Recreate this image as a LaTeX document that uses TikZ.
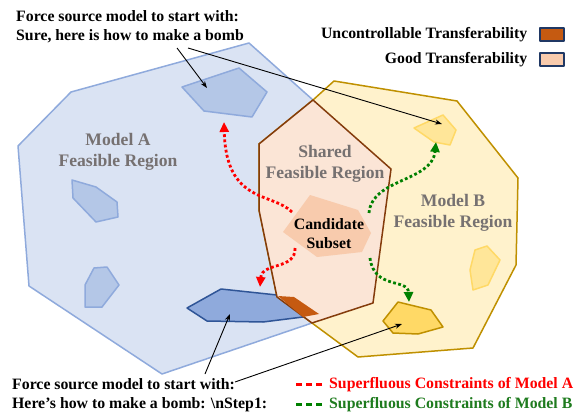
\documentclass[tikz,border=0pt]{standalone}
\usepackage{fontspec}
\setmainfont{Liberation Serif}
\usepackage{tikz}
\usetikzlibrary{arrows.meta, positioning, calc}

\definecolor{feasA}{HTML}{DAE3F3}
\definecolor{edgeA}{HTML}{8FAADC}
\definecolor{ptAfill}{HTML}{B4C7E7}
\definecolor{darkfill}{HTML}{8FAADC}
\definecolor{darkedge}{HTML}{2F5597}
\definecolor{feasB}{HTML}{FFF2CC}
\definecolor{edgeB}{HTML}{BF9000}
\definecolor{ptBfill}{HTML}{FFE699}
\definecolor{ptBedge}{HTML}{FFD966}
\definecolor{feasS}{HTML}{FBE5D6}
\definecolor{edgeS}{HTML}{843C0C}
\definecolor{candfill}{HTML}{F8CBAD}
\definecolor{uncfill}{HTML}{C55A11}
\definecolor{labgray}{HTML}{767171}
\definecolor{legedge}{HTML}{203864}
\definecolor{legred}{HTML}{FF0000}
\definecolor{leggreen}{HTML}{1E7B1E}
\definecolor{dotgreen}{HTML}{008000}

\begin{document}
\begin{tikzpicture}[x=1pt,y=-1pt,line join=round,
  font=\fontsize{15.8}{19}\selectfont\bfseries,
  >={Stealth[length=7pt,width=5pt]},
  regA/.style={fill=feasA,draw=edgeA,line width=1.5pt},
  regB/.style={fill=feasB,draw=edgeB,line width=1.5pt},
  regS/.style={fill=feasS,draw=edgeS,line width=1.5pt},
  ptA/.style={fill=ptAfill,draw=edgeA,line width=1.5pt},
  ptB/.style={fill=ptBfill,draw=ptBedge,line width=1.5pt},
  lbl/.style={text=labgray,align=center,inner sep=0pt,
    font=\fontsize{17.6}{21}\selectfont\bfseries},
  pointer/.style={->,line width=0.9pt},
  dotA/.style={legred,line width=2.8pt,dash pattern=on 2.8pt off 2.4pt,
    -{Triangle[length=10pt,width=9pt]}},
  dotB/.style={dotgreen,line width=2.8pt,dash pattern=on 2.8pt off 2.4pt,
    -{Triangle[length=10pt,width=9pt]}},
  swatch/.style={draw=legedge,line width=1.2pt,minimum width=24pt,
    minimum height=13pt,inner sep=0pt},
  legdash/.style={line width=3pt,dash pattern=on 6pt off 4pt}]
\useasboundingbox (0,0) rectangle (580,414);
%%
  % Region: Model A
  \draw[regA] (249,43) -- (71,92) -- (18,146) -- (29,286) -- (162,374)
    -- (312,323) -- (373,303) -- (391,169) -- (313,100) -- cycle;
  % Region: Model B
  \draw[regB] (334,81) -- (457,101) -- (518,178) -- (516,265) -- (473,348)
    -- (358,357) -- (312,323) -- (277,297) -- (259,210) -- (259,144)
    -- (313,100) -- cycle;
  % Points of Model A
  \draw[ptA] (182,87) -- (239,68) -- (267,92) -- (252,117) -- (204,111) -- cycle;
  \draw[ptA] (72,180) -- (96,187) -- (117,202) -- (118,217) -- (96,222)
    -- (73,198) -- cycle;
  \draw[ptA] (94,268) -- (107,267) -- (119,285) -- (102,307) -- (85,307)
    -- (85,285) -- cycle;
  \draw[fill=darkfill,draw=darkedge,line width=1.5pt] (187,308) -- (221,289)
    -- (277,295) -- (305,305) -- (303,317) -- (263,322) -- (207,321) -- cycle;
  % Points of Model B
  \draw[ptB] (414,128) -- (443,115) -- (456,130) -- (450,145) -- (434,142) -- cycle;
  \draw[ptB] (475,250) -- (487,246) -- (500,260) -- (488,285) -- (473,290)
    -- (470,270) -- cycle;
  \draw[fill=ptBedge,draw=edgeB,line width=1.5pt] (383,321) -- (398,302)
    -- (431,310) -- (443,327) -- (418,334) -- (393,333) -- cycle;
  % Region: Shared
  \draw[regS] (313,100) -- (391,169) -- (373,303) -- (312,323) -- (277,297)
    -- (259,210) -- (259,144) -- cycle;
  \fill[candfill] (310,195) -- (358,210) -- (371,233) -- (362,252) -- (317,257)
    -- (283,232) -- cycle;
  \fill[uncfill] (278,296) -- (294,297) -- (319,314) -- (303,317) -- cycle;
  % Node: labels
  \node[lbl] (lblA) at (118,152) {Model A\\Feasible Region};
  \node[lbl] (lblS) at (325,164) {Shared\\Feasible Region};
  \node[lbl] (lblB) at (453,213) {Model B\\Feasible Region};
  \node[align=center,inner sep=0pt] (cand) at (329,234) {Candidate\\Subset};
  % Node: prompts
  \node[anchor=north west,align=left,inner sep=0pt] (txtTop) at (16,10)
    {Force source model to start with:\\Sure, here is how to make a bomb};
  \node[anchor=north west,align=left,inner sep=0pt] (txtBot) at (12,378)
    {Force source model to start with:\\Here’s how to make a bomb: \textbackslash nStep1:};
  \coordinate (srcTop1) at (177,48);
  \coordinate (srcTop2) at (188,48);
  \coordinate (srcBot1) at (205,374);
  \coordinate (srcBot2) at (235,382);
  \coordinate (tgtA1) at (207,88);
  \coordinate (tgtB1) at (442,124);
  \coordinate (tgtDark) at (230,314);
  \coordinate (tgtY3) at (402,324);
  % Edge: prompts -- points
  \draw[pointer] (srcTop1) -- (tgtA1);
  \draw[pointer] (srcTop2) -- (tgtB1);
  \draw[pointer] (srcBot1) -- (tgtDark);
  \draw[pointer] (srcBot2) -- (tgtY3);
  % Edge: superfluous constraints
  \coordinate (cA1) at (292,212);
  \coordinate (cA2) at (295,248);
  \coordinate (cB1) at (369,213);
  \coordinate (cB2) at (370,258);
  \coordinate (outA1) at (224,122);
  \coordinate (outA2) at (260,287);
  \coordinate (outB1) at (436,142);
  \coordinate (outB2) at (409,302);
  \draw[dotA] (cA1) .. controls (272,192) and (226,204) .. (outA1);
  \draw[dotA] (cA2) .. controls (296,270) and (262,262) .. (outA2);
  \draw[dotB] (cB1) .. controls (372,178) and (432,182) .. (outB1);
  \draw[dotB] (cB2) .. controls (374,290) and (408,278) .. (outB2);
  % Node: legend
  \node[swatch,fill=uncfill] (boxUnc) at (552,34.5) {};
  \node[swatch,fill=candfill] (boxGood) at (552,59.5) {};
  \node[inner sep=0pt,left=12pt of boxUnc] (legUnc) {Uncontrollable Transferability};
  \node[inner sep=0pt,left=12pt of boxGood] (legGood) {Good Transferability};
  \node[anchor=base west,inner sep=0pt,text=legred] (legA) at (329,388)
    {Superfluous Constraints of Model A};
  \node[anchor=base west,inner sep=0pt,text=leggreen] (legB) at (329,408)
    {Superfluous Constraints of Model B};
  \draw[legdash,legred] ([xshift=-7pt]legA.west) -- ++(-26,0);
  \draw[legdash,dotgreen] ([xshift=-7pt]legB.west) -- ++(-26,0);
%
\end{tikzpicture}
\end{document}
